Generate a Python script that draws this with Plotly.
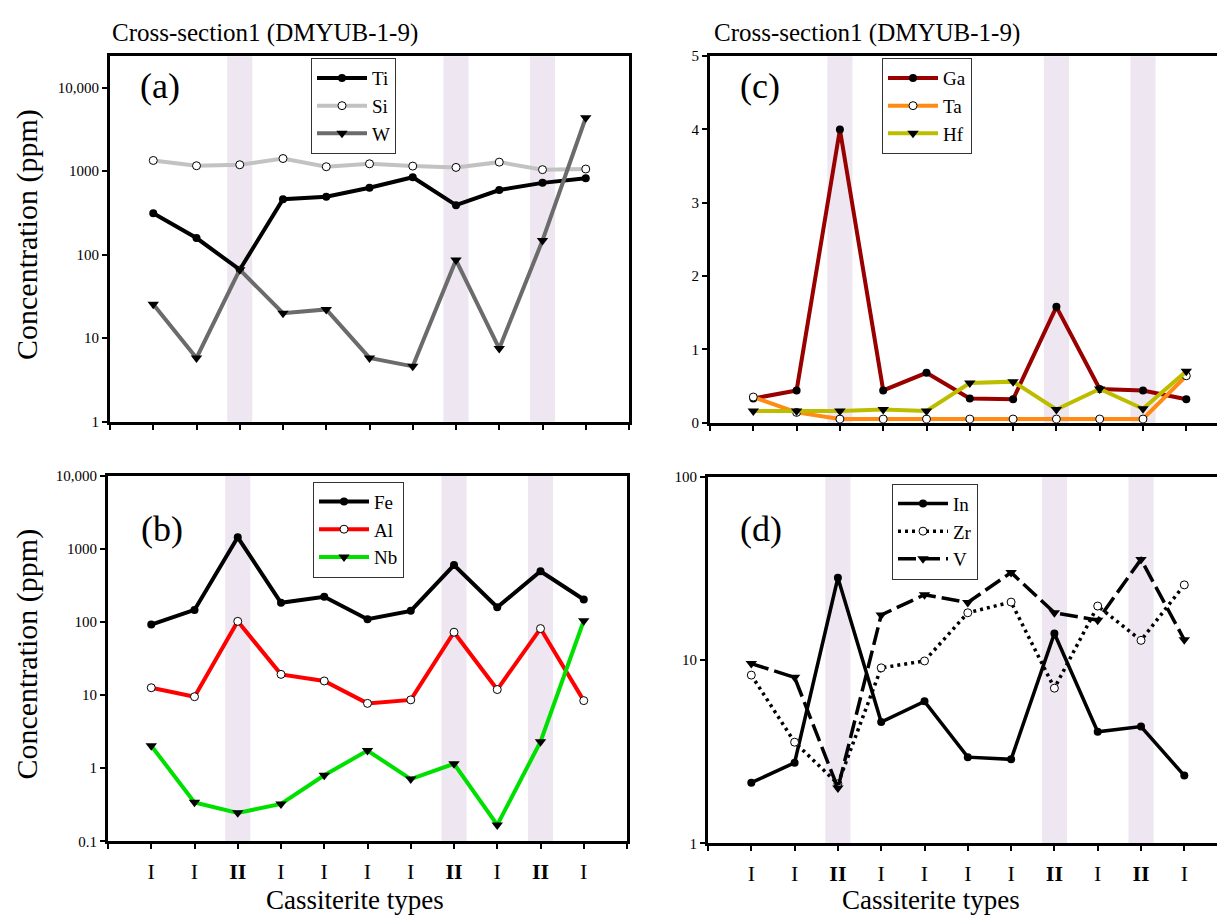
import plotly.graph_objects as go

W, H = 1217, 923
FONT = "Liberation Serif"

# Cassiterite type of each analysed spot, in section order
types = ["I", "I", "II", "I", "I", "I", "I", "II", "I", "II", "I"]
spots = list(range(1, len(types) + 1))

# (a) Ti, Si, W (ppm)
ti = [312, 158, 66, 460, 494, 631, 844, 391, 593, 723, 821]
si = [1340, 1159, 1191, 1414, 1128, 1223, 1148, 1107, 1280, 1040, 1059]
w = [25.4, 5.8, 66, 19.9, 22.1, 5.8, 4.6, 86, 7.5, 148, 4350]

# (b) Fe, Al, Nb (ppm)
fe = [92, 146, 1440, 183, 221, 109, 142, 600, 159, 493, 203]
al = [12.6, 9.5, 102, 19.2, 15.6, 7.7, 8.6, 72.4, 11.9, 81.2, 8.4]
nb = [2.03, 0.341, 0.245, 0.324, 0.80, 1.74, 0.71, 1.15, 0.167, 2.30, 104]

# (c) Ga, Ta, Hf (ppm)
ga = [0.33, 0.44, 4.0, 0.44, 0.68, 0.33, 0.32, 1.58, 0.46, 0.44, 0.32]
ta = [0.35, 0.14, 0.05, 0.05, 0.05, 0.05, 0.05, 0.05, 0.05, 0.05, 0.64]
hf = [0.16, 0.16, 0.16, 0.18, 0.16, 0.54, 0.56, 0.18, 0.46, 0.19, 0.70]

# (d) In, Zr, V (ppm)
in_ = [2.14, 2.75, 28.1, 4.59, 5.95, 2.95, 2.87, 13.96, 4.06, 4.33, 2.34]
zr = [8.27, 3.56, 2.11, 9.06, 9.88, 18.1, 20.7, 7.02, 19.7, 12.8, 25.7]
v = [9.56, 8.04, 2.0, 17.6, 22.7, 20.6, 30.0, 18.1, 16.5, 35.4, 12.9]

log_ticks_a = [1, 10, 100, 1000, 10000]
log_ticks_b = [0.1, 1, 10, 100, 1000, 10000]
lin_ticks_c = [0, 1, 2, 3, 4, 5]
log_ticks_d = [1, 10, 100]


def px_x(p):
    return p / W


def px_y(p):
    return 1 - p / H


def fmt(t):
    if t >= 10000:
        return f"{t:,.0f}"
    return f"{t:g}"


filled = dict(symbol="circle", size=8, color="black")
hollow = dict(symbol="circle", size=8, color="white", line=dict(color="black", width=1))
tri = dict(symbol="triangle-down", size=10, color="black")

fig = go.Figure()


def add(y, name, color, marker, xa, ya, legend, dash="solid", width=4):
    fig.add_trace(go.Scatter(
        x=spots, y=y, name=name, mode="lines+markers",
        line=dict(color=color, width=width, dash=dash),
        marker=marker, xaxis=xa, yaxis=ya, legend=legend,
    ))


add(ti, "Ti", "black", filled, "x", "y", "legend")
add(si, "Si", "#C2C2C2", hollow, "x", "y", "legend")
add(w, "W", "#6B6B6B", tri, "x", "y", "legend")

add(ga, "Ga", "#990000", filled, "x2", "y2", "legend2")
add(ta, "Ta", "#FF8A14", hollow, "x2", "y2", "legend2")
add(hf, "Hf", "#BDBD00", tri, "x2", "y2", "legend2")

add(fe, "Fe", "black", filled, "x3", "y3", "legend3")
add(al, "Al", "#FF0000", hollow, "x3", "y3", "legend3")
add(nb, "Nb", "#00E000", tri, "x3", "y3", "legend3")

add(in_, "In", "black", filled, "x4", "y4", "legend4", width=3.5)
add(zr, "Zr", "black", hollow, "x4", "y4", "legend4", dash="3px,4px", width=3.5)
add(v, "V", "black", tri, "x4", "y4", "legend4", dash="18px,6px", width=3.5)


def xaxis(dom, end, labels, anchor):
    n = int(end)
    vals = list(range(0, n + 1))
    text = [""] + ([f"<b>{t}</b>" if t == "II" else t for t in types] if labels else [""] * len(types))
    text = (text + [""] * (len(vals) - len(text)))[:len(vals)]
    return dict(
        domain=dom, range=[0, end], anchor=anchor,
        tickmode="array", tickvals=vals, ticktext=text,
        ticks="outside", ticklen=5, tickwidth=1.5, tickcolor="black",
        showticklabels=labels, ticklabelstandoff=3,
        tickfont=dict(family=FONT, size=22, color="black"),
        showline=True, linewidth=3, linecolor="black", mirror=True,
        showgrid=False, zeroline=False,
    )


def yaxis(dom, rng, vals, kind, anchor, mirror):
    return dict(
        domain=dom, range=rng, type=kind, anchor=anchor,
        tickmode="array", tickvals=vals, ticktext=[fmt(t) for t in vals],
        ticks="outside", ticklen=5, tickwidth=1.5, tickcolor="black",
        tickfont=dict(family=FONT, size=15, color="black"),
        showline=True, linewidth=3, linecolor="black", mirror=mirror,
        showgrid=False, zeroline=False,
    )


xa_dom = [px_x(110), px_x(629)]
xb_dom = [px_x(108), px_x(627)]
xc_dom = [px_x(710), 1.0]
xd_dom = [px_x(708), 1.0]
ya_dom = [px_y(421), px_y(49)]
yc_dom = [px_y(422), px_y(49)]
yb_dom = [px_y(848), px_y(476)]
yd_dom = [px_y(850), px_y(477)]

step = 43.3
fig.update_layout(
    xaxis=xaxis(xa_dom, 12, False, "y"),
    yaxis=yaxis(ya_dom, [0, 4.376], log_ticks_a, "log", "x", True),
    xaxis2=xaxis(xc_dom, (W - 710) / step, False, "y2"),
    yaxis2=yaxis(yc_dom, [0, 5], lin_ticks_c, "linear", "x2", False),
    xaxis3=xaxis(xb_dom, 12, True, "y3"),
    yaxis3=yaxis(yb_dom, [-1, 4], log_ticks_b, "log", "x3", True),
    xaxis4=xaxis(xd_dom, (W - 708) / step, True, "y4"),
    yaxis4=yaxis(yd_dom, [0, 2], log_ticks_d, "log", "x4", False),
)

# Shaded columns behind the type II spots
for xa, ya in [("x", "y"), ("x2", "y2"), ("x3", "y3"), ("x4", "y4")]:
    for s, t in zip(spots, types):
        if t == "II":
            fig.add_shape(type="rect", xref=xa, yref=f"{ya} domain",
                          x0=s - 0.29, x1=s + 0.29, y0=0, y1=1,
                          fillcolor="#EEE6F0", line=dict(width=0), layer="below")

legend_style = dict(
    bgcolor="white", bordercolor="#333333", borderwidth=1,
    font=dict(family=FONT, size=19, color="black"),
    xanchor="left", yanchor="top", itemwidth=50, tracegroupgap=0,
)
fig.update_layout(
    legend=dict(x=px_x(311), y=px_y(51), **legend_style),
    legend2=dict(x=px_x(882), y=px_y(51), **legend_style),
    legend3=dict(x=px_x(313), y=px_y(482), **legend_style),
    legend4=dict(x=px_x(892), y=px_y(484), **legend_style),
)


def note(text, x, y, size, xanchor="center", angle=0):
    return dict(text=text, x=px_x(x), y=px_y(y), xref="paper", yref="paper",
                xanchor=xanchor, yanchor="middle", textangle=angle, showarrow=False,
                font=dict(family=FONT, size=size, color="black"))


annotations = []
for label, x, y in [("(a)", 160, 79), ("(c)", 760, 79), ("(b)", 162, 530), ("(d)", 761, 530)]:
    annotations.append(note(label, x, y, 36))
for x in [110, 712]:
    annotations.append(note("Cross-section1 (DMYUB-1-9)", x, 25, 25, xanchor="left"))
for y in [231, 658]:
    annotations.append(note("Concentration (ppm)", 27, y, 30, angle=-90))
for x in [355, 931]:
    annotations.append(note("Cassiterite types", x, 908, 27))

fig.update_layout(
    width=W, height=H, margin=dict(l=0, r=0, t=0, b=0),
    paper_bgcolor="white", plot_bgcolor="white",
    annotations=annotations,
)

fig.write_html("out.html")
